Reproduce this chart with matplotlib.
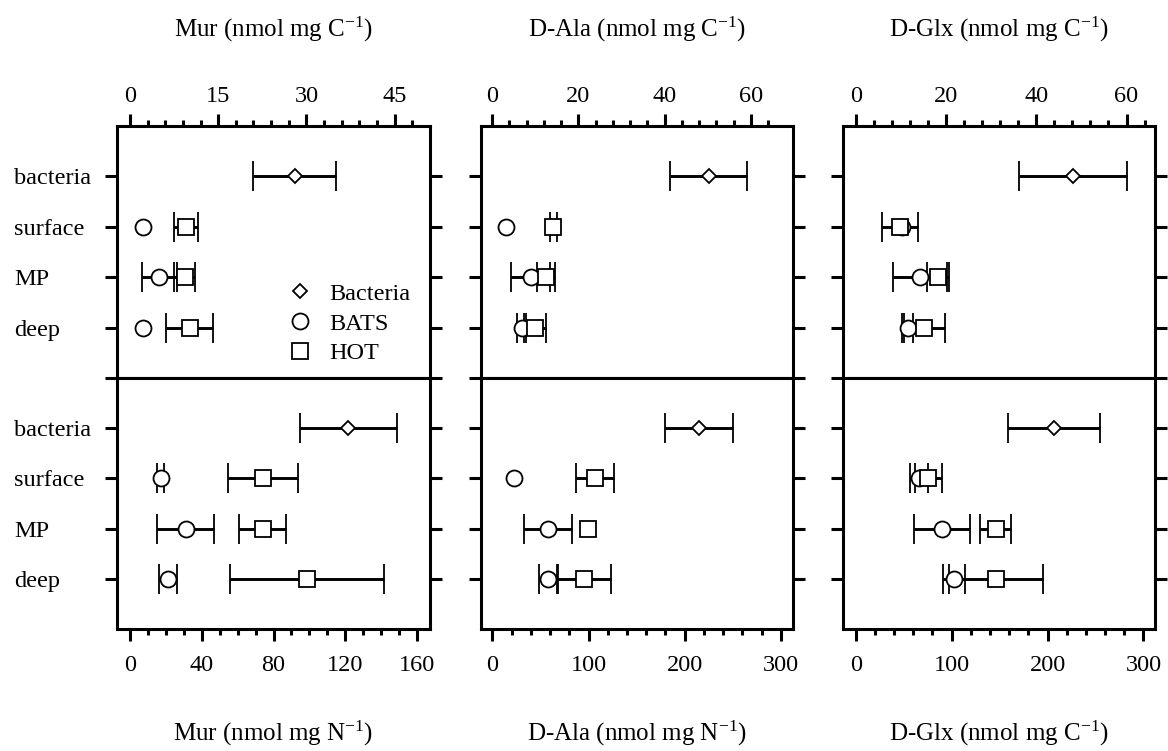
import numpy as np
import matplotlib
matplotlib.use("Agg")
import matplotlib.pyplot as plt
from matplotlib.lines import Line2D
from matplotlib.ticker import FixedLocator

plt.rcParams['font.family'] = ['Liberation Serif', 'DejaVu Serif']
plt.rcParams['mathtext.fontset'] = 'custom'
plt.rcParams['mathtext.rm'] = 'Liberation Serif'
plt.rcParams['mathtext.it'] = 'Liberation Serif:italic'
plt.rcParams['mathtext.default'] = 'regular'

# ---------------- data ----------------
categories = ["bacteria", "surface", "MP", "deep"]
series_names = ["Bacteria", "BATS", "HOT"]

# Mur (nmol mg C-1)
mur_c_bact, mur_c_bact_err = 28.0, 7.0
mur_c_bats = [2.3, 5.0, 2.3]
mur_c_bats_err = [0.0, 3.0, 0.0]
mur_c_hot = [9.5, 9.3, 10.2]
mur_c_hot_err = [2.0, 1.8, 4.0]

# Mur (nmol mg N-1)
mur_n_bact, mur_n_bact_err = 121.7, 27.0
mur_n_bats = [17.1, 31.0, 21.0]
mur_n_bats_err = [2.0, 16.0, 5.0]
mur_n_hot = [74.3, 74.0, 98.5]
mur_n_hot_err = [19.5, 13.0, 43.0]

# D-Ala (nmol mg C-1)
ala_c_bact, ala_c_bact_err = 50.2, 9.0
ala_c_bats = [3.1, 8.9, 6.8]
ala_c_bats_err = [0.0, 4.6, 1.0]
ala_c_hot = [14.2, 12.5, 9.9]
ala_c_hot_err = [0.8, 2.0, 2.6]

# D-Ala (nmol mg N-1)
ala_n_bact, ala_n_bact_err = 215.0, 35.0
ala_n_bats = [22.6, 57.6, 58.3]
ala_n_bats_err = [0.0, 25.0, 10.0]
ala_n_hot = [106.8, 99.2, 95.7]
ala_n_hot_err = [20.0, 0.0, 28.0]

# D-Glx (nmol mg C-1)
glx_c_bact, glx_c_bact_err = 48.2, 12.0
glx_c_bats = [10.3, 14.2, 11.6]
glx_c_bats_err = [0.0, 6.0, 1.0]
glx_c_hot = [9.8, 18.2, 15.1]
glx_c_hot_err = [4.0, 2.5, 4.8]

# D-Glx (lower panel)
glx_n_bact, glx_n_bact_err = 206.8, 48.0
glx_n_bats = [66.0, 89.7, 102.5]
glx_n_bats_err = [9.5, 29.0, 11.0]
glx_n_hot = [75.8, 146.0, 146.0]
glx_n_hot_err = [14.0, 16.0, 49.0]

top_titles = ["Mur (nmol mg C$^{-1}$)", "D-Ala (nmol mg C$^{-1}$)", "D-Glx (nmol mg C$^{-1}$)"]
bottom_titles = ["Mur (nmol mg N$^{-1}$)", "D-Ala (nmol mg N$^{-1}$)", "D-Glx (nmol mg C$^{-1}$)"]

top_data = [
    (mur_c_bact, mur_c_bact_err, mur_c_bats, mur_c_bats_err, mur_c_hot, mur_c_hot_err),
    (ala_c_bact, ala_c_bact_err, ala_c_bats, ala_c_bats_err, ala_c_hot, ala_c_hot_err),
    (glx_c_bact, glx_c_bact_err, glx_c_bats, glx_c_bats_err, glx_c_hot, glx_c_hot_err),
]
bottom_data = [
    (mur_n_bact, mur_n_bact_err, mur_n_bats, mur_n_bats_err, mur_n_hot, mur_n_hot_err),
    (ala_n_bact, ala_n_bact_err, ala_n_bats, ala_n_bats_err, ala_n_hot, ala_n_hot_err),
    (glx_n_bact, glx_n_bact_err, glx_n_bats, glx_n_bats_err, glx_n_hot, glx_n_hot_err),
]

# axis scale settings: (xlim, major ticks, minor ticks)
top_scales = [
    ((-2.2, 51.0), [0, 15, 30, 45], np.arange(0, 49, 3)),
    ((-2.6, 69.8), [0, 20, 40, 60], np.arange(0, 65, 4)),
    ((-2.8, 66.3), [0, 20, 40, 60], np.arange(0, 65, 4)),
]
bottom_scales = [
    ((-7.2, 167.2), [0, 40, 80, 120, 160], np.arange(0, 161, 10)),
    ((-11.8, 312.6), [0, 100, 200, 300], np.arange(0, 301, 20)),
    ((-13.2, 312.0), [0, 100, 200, 300], np.arange(0, 301, 20)),
]

# ---------------- figure ----------------
W, H = 1168, 751
fig = plt.figure(figsize=(W / 100, H / 100), dpi=100)

lefts = [117, 481, 843]
widths = [313, 312, 312]
y_top, y_mid, y_bot = 126, 378, 629

LW = 2.2
FS = 17.5
ms_c, ms_s, ms_d = 11.5, 12.0, 7.3
mew = 1.3
ebkw = dict(ecolor='black', elinewidth=2.1, capsize=11, capthick=2.3, linestyle='none')

rows_bact = [1]
rows_env = [2, 3, 4]


def nz(err):
    # zero-width errors are not drawn
    return [np.nan if e == 0 else e for e in err]


def draw(ax, d):
    bact, bact_err, bats, bats_err, hot, hot_err = d
    ax.errorbar(bats, rows_env, xerr=nz(bats_err), fmt='o', ms=ms_c, mfc='white', mec='black',
                mew=mew, zorder=3, **ebkw)
    ax.errorbar(hot, rows_env, xerr=nz(hot_err), fmt='s', ms=ms_s, mfc='white', mec='black',
                mew=mew, zorder=3, **ebkw)
    ax.errorbar([bact], rows_bact, xerr=nz([bact_err]), fmt='D', ms=ms_d, mfc='white', mec='black',
                mew=mew, zorder=3, **ebkw)


TICKLEN = 8.5
LABEL_LEFT_PX = 14
ylab_pad = (lefts[0] - LABEL_LEFT_PX) * 0.72 - TICKLEN


def style(ax, scale, where, first):
    xlim, majors, minors = scale
    ax.set_xlim(*xlim)
    ax.set_ylim(5, 0)
    ax.xaxis.set_major_locator(FixedLocator(majors))
    ax.xaxis.set_minor_locator(FixedLocator([m for m in minors if m not in majors]))
    for s in ax.spines.values():
        s.set_linewidth(LW)
    if where == 'top':
        ax.xaxis.tick_top()
        ax.tick_params(axis='x', which='both', top=True, bottom=False, labeltop=True,
                       labelbottom=False, direction='out')
        ax.tick_params(axis='x', which='major', pad=5)
        ax.set_yticks([1, 2, 3, 4, 5])
        labels = categories + ['']
    else:
        ax.tick_params(axis='x', which='both', top=False, bottom=True, labeltop=False,
                       labelbottom=True, direction='out')
        ax.tick_params(axis='x', which='major', pad=10)
        ax.set_yticks([1, 2, 3, 4])
        labels = categories
    ax.tick_params(axis='x', which='major', length=TICKLEN, width=LW, labelsize=FS)
    ax.tick_params(axis='x', which='minor', length=4.2, width=LW)
    ax.tick_params(axis='y', which='major', left=True, right=True, direction='out',
                   length=TICKLEN, width=LW, pad=ylab_pad, labelsize=FS, labelleft=first)
    if first:
        ax.set_yticklabels(labels, ha='left')


axes_top, axes_bot = [], []
for i in range(3):
    axt = fig.add_axes([lefts[i] / W, 1 - y_mid / H, widths[i] / W, (y_mid - y_top) / H])
    axb = fig.add_axes([lefts[i] / W, 1 - y_bot / H, widths[i] / W, (y_bot - y_mid) / H])
    draw(axt, top_data[i])
    draw(axb, bottom_data[i])
    style(axt, top_scales[i], 'top', i == 0)
    style(axb, bottom_scales[i], 'bottom', i == 0)
    cx = (lefts[i] + widths[i] / 2) / W
    fig.text(cx, 1 - 37 / H, top_titles[i], ha='center', va='baseline', fontsize=FS + 0.5)
    fig.text(cx, 1 - 741 / H, bottom_titles[i], ha='center', va='baseline', fontsize=FS + 0.5)
    axes_top.append(axt)
    axes_bot.append(axb)

handles = [
    Line2D([], [], marker='D', ms=ms_d, mfc='white', mec='black', mew=mew, linestyle='none'),
    Line2D([], [], marker='o', ms=ms_c, mfc='white', mec='black', mew=mew, linestyle='none'),
    Line2D([], [], marker='s', ms=ms_s, mfc='white', mec='black', mew=mew, linestyle='none'),
]
axes_top[0].legend(handles, series_names, loc='upper left', bbox_to_anchor=(0.55, 0.378),
                   frameon=False, fontsize=FS, handlelength=0.9, handletextpad=0.75,
                   labelspacing=0.32, borderpad=0, borderaxespad=0)

fig.savefig("out.png", dpi=100)
